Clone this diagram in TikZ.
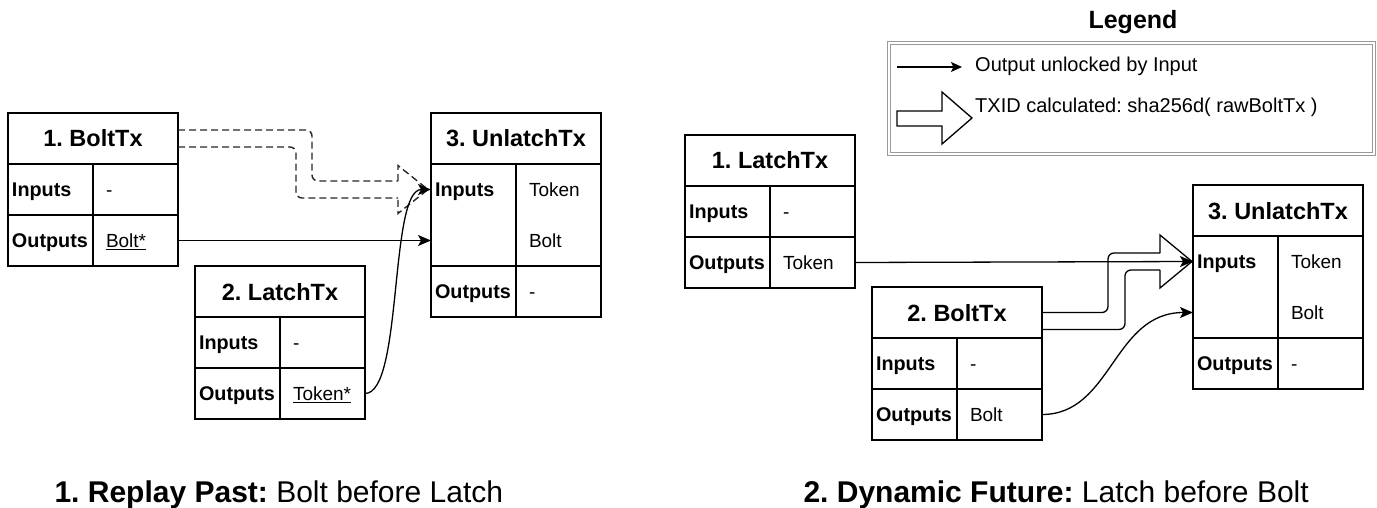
\documentclass[tikz,border=0pt]{standalone}
\usepackage{fontspec}
\setmainfont{Liberation Sans}
\usetikzlibrary{arrows.meta,calc}
\frenchspacing
\newcommand\hdrf{\fontsize{23.5}{28}\selectfont\bfseries}
\newcommand\labf{\fontsize{19.8}{24}\selectfont\bfseries}
\newcommand\valf{\fontsize{19}{23}\selectfont}
\newcommand\capf{\fontsize{30}{36}\selectfont}
\newcommand\legf{\fontsize{20}{24}\selectfont}
\newcommand\legtf{\fontsize{25}{30}\selectfont\bfseries}
% table: prefix, x, y, title, input value, output value
\newcommand\txtab[6]{%
  \node[hdr] (#1-h) at (#2,#3) {#4};
  \node[lab] (#1-il) at (#1-h.south west) {Inputs};
  \node[val] (#1-iv) at (#1-il.north east) {#5};
  \node[lab] (#1-ol) at (#1-il.south west) {Outputs};
  \node[val] (#1-ov) at (#1-ol.north east) {#6};
}
\newcommand\untab[3]{%
  \node[hdr] (#1-h) at (#2,#3) {3. UnlatchTx};
  \node[lab, draw=none] (#1-i1) at (#1-h.south west) {Inputs};
  \node[lab, draw=none] (#1-i2) at (#1-i1.south west) {};
  \node[val, draw=none] (#1-v1) at (#1-i1.north east) {Token};
  \node[val, draw=none] (#1-v2) at (#1-v1.south west) {Bolt};
  \draw[frame] (#1-i1.north west) rectangle (#1-i2.south east);
  \draw[frame] (#1-v1.north west) rectangle (#1-v2.south east);
  \node[lab] (#1-ol) at (#1-i2.south west) {Outputs};
  \node[val] (#1-ov) at (#1-ol.north east) {-};
}
\begin{document}
\begin{tikzpicture}[x=1pt,y=-1pt,
  frame/.style={draw=black, line width=1.3pt},
  box/.style={frame, anchor=north west, inner sep=0pt, outer sep=0pt},
  hdr/.style={box, minimum width=170pt, minimum height=51pt, font=\hdrf, text height=17pt, text depth=0pt},
  lab/.style={box, minimum height=51pt, text width=77pt, inner xsep=4pt, align=left, font=\labf, text height=14pt, text depth=0pt},
  val/.style={lab, font=\valf, execute at begin node={\hspace*{9pt}}},
  conn/.style={draw=black, line width=1.3pt, -{Stealth[length=13pt,width=11pt,inset=3pt]}},
  hollowdashed/.style={draw=black!85, line width=1.4pt, dash pattern=on 7pt off 4pt},
  hollowsolid/.style={draw=black, line width=1.3pt},
]
\useasboundingbox (0,0) rectangle (1377,508);

% ---------------- left diagram ----------------
\txtab{A}{8}{113}{1. BoltTx}{-}{\underline{Bolt*}}
\txtab{B}{195}{266}{2. LatchTx}{-}{\underline{Token*}}
\untab{U}{431}{113}

% dashed hollow arrow (TXID)
\coordinate (tipL) at ($(U-i1.west)+(-3,0)$);
\draw[hollowdashed, rounded corners=6pt] ($(A-h.east)+(0,8.5)$) -- (296,147) -- (296,198) -- (398,198);
\draw[hollowdashed, rounded corners=6pt] ($(A-h.east)+(0,-8.5)$) -- (312,130) -- (312,181) -- (398,181);
\draw[hollowdashed] (398,181) -- (398,165.5) -- (tipL) -- (398,213.5) -- (398,198);

\draw[conn] (A-ov.east) -- (U-i2.west);
\draw[conn] (B-ov.east) .. controls +(38,0) and +(-42,0) .. (U-i1.west);

\node[font=\capf, anchor=base west] (cap1) at (51,502) {\textbf{1. Replay Past:} Bolt before Latch};

% ---------------- right diagram ----------------
\txtab{C}{685}{135}{1. LatchTx}{-}{Token}
\txtab{D}{872}{287}{2. BoltTx}{-}{Bolt}
\untab{E}{1193}{185}

\draw[conn] (C-ov.east) -- (E-i1.west);

\coordinate (tipR) at ($(E-i1.west)+(-1,0)$);
\draw[hollowsolid, rounded corners=6pt] (D-h.east) -- (1108,312.5) -- (1108,253) -- (1160,253);
\draw[hollowsolid, rounded corners=6pt] ($(D-h.east)+(0,17)$) -- (1125,329.5) -- (1125,270) -- (1160,270);
\draw[hollowsolid] (1160,253) -- (1160,235) -- (tipR) -- (1160,288) -- (1160,270);

\draw[conn] (D-ov.east) .. controls +(70,0) and +(-80,0) .. (E-i2.west);

\node[font=\capf, anchor=base west] (cap2) at (800,502) {\textbf{2. Dynamic Future:} Latch before Bolt};

% ---------------- legend ----------------
\node[font=\legtf, anchor=base] (legt) at (1133,29) {Legend};
\node[draw=black!40, line width=1pt, double=white, double distance=2.2pt,
      anchor=north west, minimum width=485pt, minimum height=111pt, inner sep=0pt, outer sep=0pt]
      (legbox) at (889.2,43.2) {};
\coordinate (la1) at (897,67);
\coordinate (la2) at (962,67);
\draw[conn, -{Stealth[length=11pt,width=10pt,inset=2.5pt]}] (la1) -- (la2);
\node[font=\legf, anchor=base west, inner sep=0pt] (lt1) at (975,72) {Output unlocked by Input};
\draw[hollowsolid] (897,111) -- (942,111) -- (942,92) -- (972,118) -- (942,144) -- (942,126) -- (897,126) -- cycle;
\node[font=\legf, anchor=base west, inner sep=0pt] (lt2) at (975,113) {TXID calculated: sha256d( rawBoltTx )};
\end{tikzpicture}
\end{document}
